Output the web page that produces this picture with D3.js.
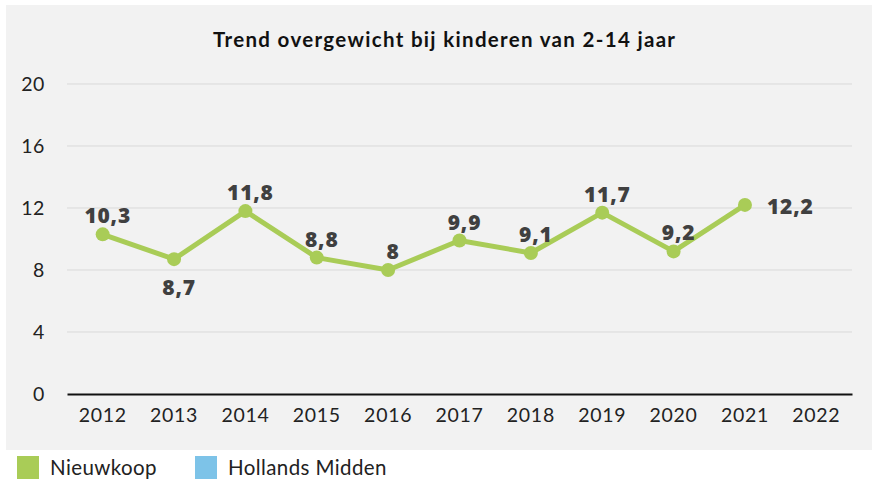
<!DOCTYPE html>
<html>
<head>
<meta charset="utf-8">
<script src="https://cdn.jsdelivr.net/npm/d3@7"></script>
<style>
  body { margin: 0; background: #fff; }
  svg { display: block; }
</style>
</head>
<body>
<svg id="chart" width="872" height="483"></svg>
<script>
// data
const years = ['2012', '2013', '2014', '2015', '2016', '2017', '2018', '2019', '2020', '2021', '2022'];
const nieuwkoop = [10.3, 8.7, 11.8, 8.8, 8, 9.9, 9.1, 11.7, 9.2, 12.2, null];
const labelSide = ['above', 'below', 'above', 'above', 'above', 'above', 'above', 'above', 'above', 'right', null];
const yTicks = [0, 4, 8, 12, 16, 20];
const legendItems = [
    { name: 'Nieuwkoop', color: '#a9cc57' },
    { name: 'Hollands Midden', color: '#7dc3e8' }
];

const svg = d3.select('#chart');
const font = 'Lato, sans-serif';

// grey panel behind the chart
svg.append('rect')
    .attr('x', 6).attr('y', 5)
    .attr('width', 866).attr('height', 445)
    .attr('fill', '#f2f2f2');

const x = d3.scaleBand().domain(years).range([67, 852]);
const y = d3.scaleLinear().domain([0, 20]).range([394, 84]);

// title
svg.append('text')
    .attr('x', 444).attr('y', 47)
    .attr('text-anchor', 'middle')
    .attr('textLength', 462)
    .style('font-family', font)
    .style('font-weight', 'bold')
    .style('font-size', '20.5px')
    .attr('fill', '#111')
    .text('Trend overgewicht bij kinderen van 2-14 jaar');

// gridlines
svg.append('g')
    .selectAll('line')
    .data(yTicks.filter(d => d > 0))
    .enter().append('line')
    .attr('x1', 67).attr('x2', 852)
    .attr('y1', d => y(d)).attr('y2', d => y(d))
    .attr('stroke', '#d9d9d9').attr('stroke-width', 1);

// y axis
const yAxis = svg.append('g')
    .attr('transform', 'translate(67,0)')
    .call(d3.axisLeft(y).tickValues(yTicks).tickSize(0).tickPadding(22));
yAxis.select('.domain').remove();
yAxis.selectAll('text')
    .style('font-family', font)
    .style('font-size', '19.5px')
    .style('letter-spacing', '0.6px')
    .attr('fill', '#222');

// x axis
const xAxis = svg.append('g')
    .attr('transform', 'translate(0,394)')
    .call(d3.axisBottom(x).tickSize(0).tickPadding(14));
xAxis.select('.domain').attr('stroke', '#111').attr('stroke-width', 2);
xAxis.selectAll('text')
    .style('font-family', font)
    .style('font-size', '19.5px')
    .style('letter-spacing', '0.7px')
    .attr('fill', '#222');

// line + markers
const pts = years.map((yr, i) => ({ yr, v: nieuwkoop[i], side: labelSide[i] })).filter(d => d.v != null);
const cx = d => x(d.yr) + x.bandwidth() / 2;

svg.append('path')
    .datum(pts)
    .attr('fill', 'none')
    .attr('stroke', '#a9cc57')
    .attr('stroke-width', 5)
    .attr('stroke-linejoin', 'round')
    .attr('d', d3.line().x(cx).y(d => y(d.v)));

svg.append('g')
    .selectAll('circle')
    .data(pts)
    .enter().append('circle')
    .attr('cx', cx).attr('cy', d => y(d.v))
    .attr('r', 7)
    .attr('fill', '#a9cc57');

// data labels
svg.append('g')
    .selectAll('text')
    .data(pts)
    .enter().append('text')
    .attr('x', d => d.side === 'right' ? cx(d) + 22 : cx(d) + 5)
    .attr('y', d => d.side === 'below' ? y(d.v) + 36 : d.side === 'right' ? y(d.v) + 9 : y(d.v) - 11)
    .attr('text-anchor', d => d.side === 'right' ? 'start' : 'middle')
    .style('font-family', '"Open Sans", sans-serif')
    .style('font-weight', 800)
    .style('font-size', '21px')
    .style('letter-spacing', '0.8px')
    .attr('fill', '#404040')
    .text(d => String(d.v).replace('.', ','));

// legend
const leg = svg.append('g')
    .selectAll('g')
    .data(legendItems)
    .enter().append('g')
    .attr('transform', (d, i) => `translate(${17 + i * 178},456)`);
leg.append('rect')
    .attr('width', 22).attr('height', 23)
    .attr('fill', d => d.color);
leg.append('text')
    .attr('x', 33).attr('y', 19)
    .style('font-family', font)
    .style('font-size', '20.5px')
    .style('letter-spacing', '0.4px')
    .attr('fill', '#222')
    .text(d => d.name);
</script>
</body>
</html>
